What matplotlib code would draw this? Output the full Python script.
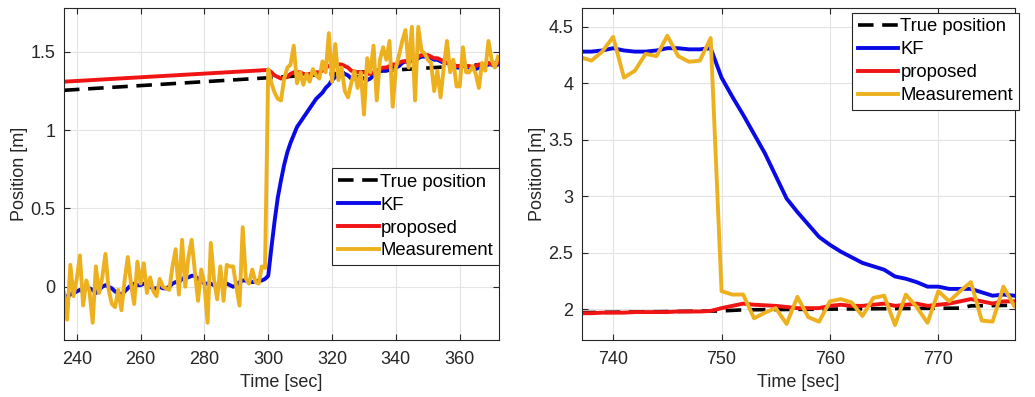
import matplotlib
matplotlib.use("Agg")
import matplotlib.pyplot as plt

plt.rcParams['font.family'] = ['Liberation Sans', 'DejaVu Sans']

# ---- left panel data (sampled at 1 s) ----
left_meas_t = list(range(236, 373))
left_meas = [
    -0.04, -0.21, 0.14, -0.06, 0.05, 0.20, -0.12, 0.04, -0.03, -0.23,
    0.13, -0.04, 0.06, 0.21, -0.02, -0.11, -0.13, -0.02, -0.15, 0.04,
    0.19, 0.02, -0.11, 0.16, 0.02, 0.15, -0.04, 0.06, -0.03, -0.06,
    0.05, 0.00, -0.01, -0.02, 0.13, 0.24, -0.05, 0.30, 0.00, 0.19,
    0.30, 0.10, -0.09, 0.11, 0.02, -0.23, 0.28, 0.05, -0.08, 0.13,
    -0.09, 0.14, 0.13, 0.13, 0.00, -0.12, 0.38, 0.05, 0.02, 0.11,
    0.03, 0.02, 0.13, 0.12,
    1.39, 1.30, 1.24, 1.20, 1.19, 1.33, 1.40, 1.42, 1.54, 1.30,
    1.37, 1.29, 1.36, 1.31, 1.39, 1.35, 1.33, 1.44, 1.37, 1.62,
    1.31, 1.55, 1.32, 1.40, 1.25, 1.21, 1.30, 1.38, 1.27, 1.37,
    1.10, 1.46, 1.37, 1.54, 1.19, 1.45, 1.53, 1.45, 1.57, 1.15,
    1.40, 1.48, 1.57, 1.64, 1.40, 1.66, 1.19, 1.66, 1.51, 1.49,
    1.45, 1.43, 1.25, 1.38, 1.21, 1.40, 1.57, 1.37, 1.45, 1.28,
    1.28, 1.53, 1.37, 1.37, 1.41, 1.36, 1.27, 1.43, 1.38, 1.57,
    1.45, 1.40, 1.47,
]
left_kf_t = list(range(236, 373))
left_kf = [
    -0.06, -0.06, -0.05, -0.04, -0.03, -0.02, -0.03, -0.01, -0.01, -0.02,
    -0.04, -0.02, 0.00, 0.01, 0.00, -0.01, -0.03, -0.04, -0.05, -0.03,
    -0.01, 0.01, 0.02, 0.01, 0.01, 0.02, 0.02, 0.00, -0.01, -0.01,
    0.00, -0.01, -0.01, 0.00, 0.02, 0.03, 0.03, 0.05, 0.06, 0.06,
    0.07, 0.07, 0.05, 0.04, 0.02, 0.02, 0.02, 0.01, 0.01, 0.02,
    0.03, 0.02, 0.01, 0.00, 0.01, 0.03, 0.04, 0.04, 0.03, 0.03,
    0.03, 0.04, 0.04, 0.05,
    0.07, 0.25, 0.42, 0.57, 0.68, 0.78, 0.86, 0.92, 0.97, 1.02,
    1.05, 1.08, 1.11, 1.14, 1.17, 1.20, 1.22, 1.24, 1.27, 1.29,
    1.32, 1.34, 1.35, 1.36, 1.36, 1.35, 1.33, 1.33, 1.34, 1.34,
    1.33, 1.32, 1.33, 1.35, 1.36, 1.38, 1.38, 1.38, 1.40, 1.41,
    1.40, 1.41, 1.43, 1.44, 1.43, 1.45, 1.44, 1.46, 1.47, 1.47,
    1.47, 1.46, 1.45, 1.45, 1.44, 1.43, 1.43, 1.42, 1.41, 1.40,
    1.40, 1.41, 1.41, 1.40, 1.40, 1.39, 1.40, 1.41, 1.41, 1.42,
    1.42, 1.41, 1.42,
]
left_prop_t = [236] + list(range(300, 373))
left_prop = [
    1.31, 1.385, 1.37, 1.35, 1.34, 1.33, 1.335, 1.34, 1.36, 1.37,
    1.37, 1.37, 1.36, 1.355, 1.36, 1.36, 1.37, 1.37, 1.38, 1.40,
    1.41, 1.41, 1.41, 1.42, 1.42, 1.41, 1.40, 1.38, 1.375, 1.37,
    1.37, 1.37, 1.36, 1.36, 1.37, 1.38, 1.39, 1.40, 1.40, 1.41,
    1.42, 1.42, 1.43, 1.44, 1.44, 1.45, 1.46, 1.46, 1.47, 1.48,
    1.48, 1.48, 1.47, 1.46, 1.46, 1.45, 1.44, 1.43, 1.43, 1.42,
    1.41, 1.41, 1.41, 1.41, 1.41, 1.40, 1.41, 1.42, 1.42, 1.42,
    1.43, 1.42, 1.43, 1.43,
]
left_true_t = [236, 300, 372]
left_true = [1.255, 1.335, 1.425]

# ---- right panel data (sampled at 1 s) ----
right_t = list(range(737, 778))
right_meas = [
    4.23, 4.20, 4.28, 4.41, 4.05, 4.11, 4.26, 4.24, 4.42, 4.24,
    4.19, 4.20, 4.40, 2.16, 2.13, 2.13, 1.92, 1.97, 2.01, 1.87,
    2.11, 1.93, 1.89, 2.07, 2.09, 2.06, 1.94, 2.10, 2.12, 1.86,
    2.13, 2.02, 1.88, 2.16, 2.07, 2.16, 2.24, 1.90, 1.89, 2.20,
    2.03,
]
right_kf = [
    4.28, 4.28, 4.29, 4.31, 4.29, 4.28, 4.28, 4.29, 4.31, 4.31,
    4.30, 4.30, 4.31, 4.05, 3.88, 3.72, 3.55, 3.38, 3.18, 2.98,
    2.86, 2.75, 2.64, 2.57, 2.51, 2.46, 2.41, 2.38, 2.35, 2.29,
    2.27, 2.24, 2.20, 2.20, 2.18, 2.18, 2.18, 2.15, 2.12, 2.13,
    2.12,
]
right_prop = [
    1.965, 1.965, 1.97, 1.97, 1.97, 1.975, 1.975, 1.975, 1.975, 1.98,
    1.98, 1.98, 1.985, 2.01, 2.03, 2.05, 2.04, 2.035, 2.03, 2.02,
    2.01, 2.01, 2.01, 2.03, 2.04, 2.03, 2.03, 2.04, 2.05, 2.03,
    2.04, 2.05, 2.03, 2.04, 2.05, 2.07, 2.09, 2.07, 2.05, 2.07,
    2.07,
]
right_true_t = [737, 750, 752, 772, 773, 777]
right_true = [1.97, 1.985, 1.995, 2.01, 2.03, 2.035]

labels = ['True position', 'KF', 'proposed', 'Measurement']
c_kf = '#0a0ae6'
c_prop = '#f01414'
c_meas = '#EDB120'
text_c = '#262626'


def style_axes(ax):
    ax.grid(True, color='#e3e3e3', linewidth=0.8)
    ax.set_axisbelow(True)
    for s in ax.spines.values():
        s.set_color('#262626')
        s.set_linewidth(0.8)
    ax.tick_params(direction='in', top=True, right=True, length=4,
                   labelsize=13, colors=text_c, width=0.8)
    ax.tick_params(axis='x', pad=8)
    ax.tick_params(axis='y', pad=6)
    ax.set_xlabel('Time [sec]', fontsize=13, color=text_c, labelpad=4)
    ax.set_ylabel('Position [m]', fontsize=13, color=text_c, labelpad=2)


def draw(ax, true_t, true_v, kf_t, kf_v, prop_t, prop_v, meas_t, meas_v):
    ax.plot(true_t, true_v, color='black', linewidth=2.6, dashes=(4.3, 2.4))
    ax.plot(kf_t, kf_v, color=c_kf, linewidth=2.8)
    ax.plot(prop_t, prop_v, color=c_prop, linewidth=2.8)
    ax.plot(meas_t, meas_v, color=c_meas, linewidth=2.8)


def add_legend(ax, loc, anchor):
    leg = ax.legend(labels, loc=loc, bbox_to_anchor=anchor,
                    fontsize=13.3, handlelength=2.2, handletextpad=0.1,
                    labelspacing=0.32, borderpad=0.3, borderaxespad=0,
                    fancybox=False, framealpha=1, edgecolor='#262626')
    leg.get_frame().set_linewidth(0.8)
    return leg


fig = plt.figure(figsize=(10.35, 3.97), dpi=100)

ax1 = fig.add_axes([0.0618, 0.1436, 0.420, 0.836])
draw(ax1, left_true_t, left_true, left_kf_t, left_kf,
     left_prop_t, left_prop, left_meas_t, left_meas)
ax1.set_xlim(236, 372.2)
ax1.set_ylim(-0.34, 1.78)
ax1.set_xticks([240, 260, 280, 300, 320, 340, 360])
ax1.set_yticks([0, 0.5, 1, 1.5])
ax1.set_yticklabels(['0', '0.5', '1', '1.5'])
style_axes(ax1)
add_legend(ax1, 'lower right', (1.0, 0.226))

ax2 = fig.add_axes([0.562, 0.1436, 0.419, 0.836])
draw(ax2, right_true_t, right_true, right_t, right_kf,
     right_t, right_prop, right_t, right_meas)
ax2.set_xlim(737.1, 777.1)
ax2.set_ylim(1.728, 4.665)
ax2.set_xticks([740, 750, 760, 770])
ax2.set_yticks([2, 2.5, 3, 3.5, 4, 4.5])
ax2.set_yticklabels(['2', '2.5', '3', '3.5', '4', '4.5'])
style_axes(ax2)
add_legend(ax2, 'upper right', (1.0076, 0.986))

fig.savefig('out.png', dpi=100)
